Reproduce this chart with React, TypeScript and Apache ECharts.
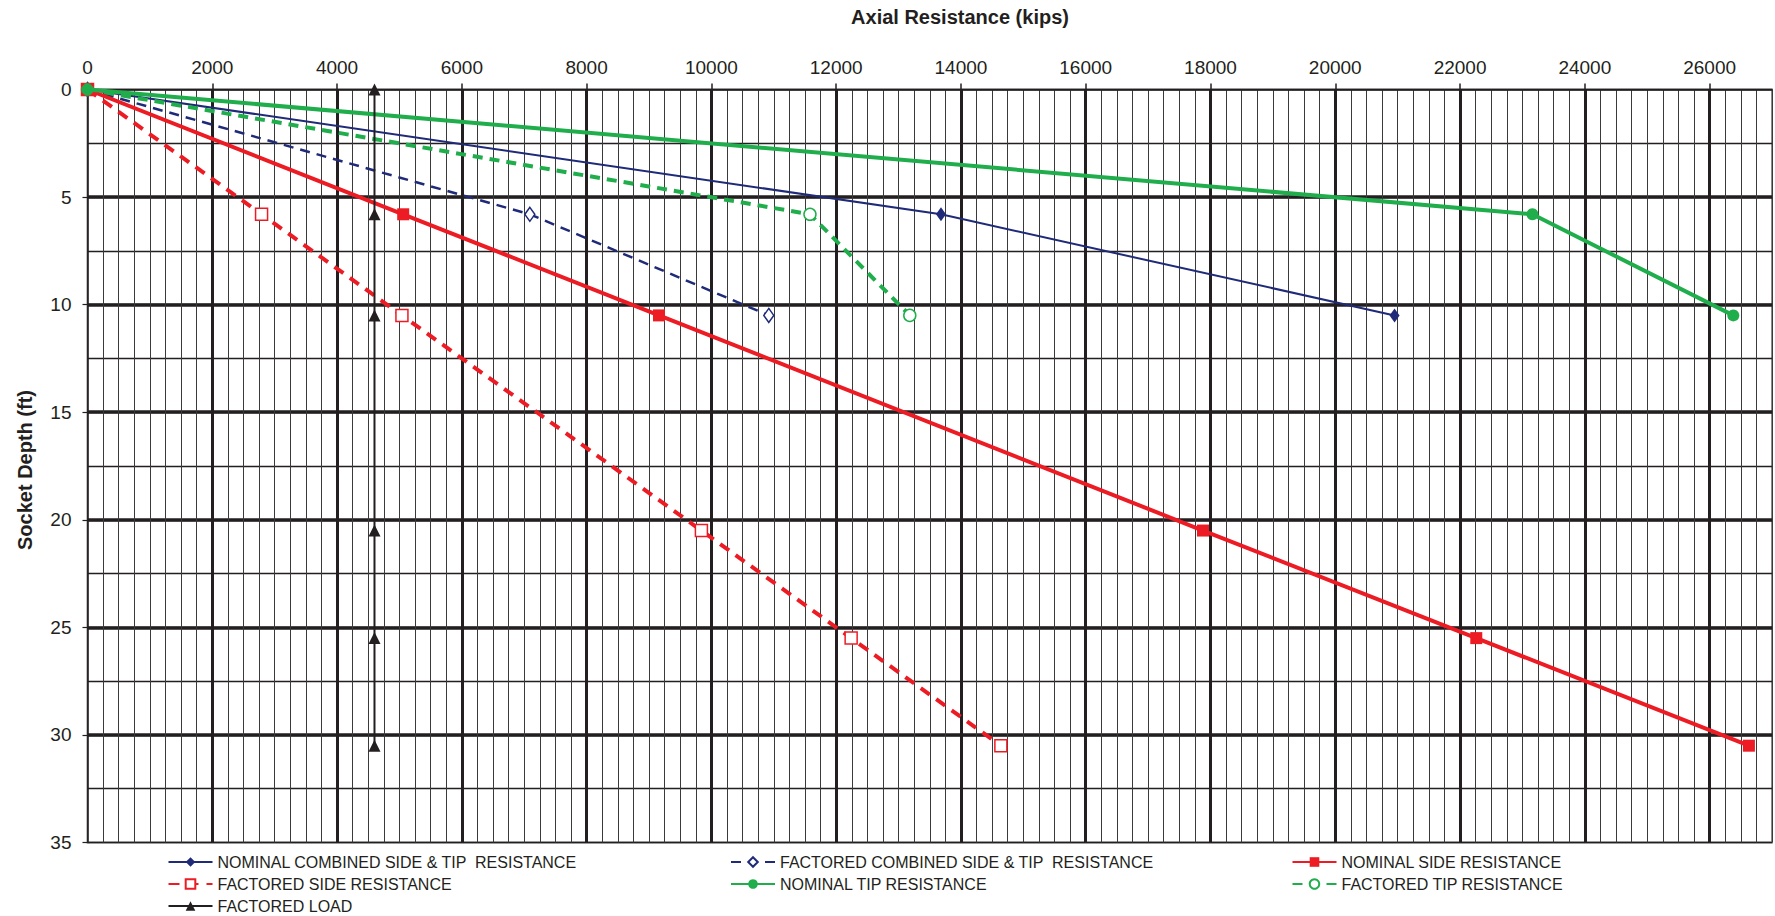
import React, { useEffect, useRef } from "react";
import * as echarts from "echarts";

// ---- data (x: axial resistance in kips, depth in ft) ----
const DEPTHS = [0, 5.8, 10.5, 20.5, 25.5, 30.5];
const COMBINED_DEPTHS = [0, 5.8, 10.5];

const nominalCombined = [0, 13680, 20950];
const factoredCombined = [0, 7090, 10920];
const nominalSide = [0, 5060, 9160, 17880, 22260, 26630];
const factoredSide = [0, 2790, 5040, 9840, 12240, 14640];
const nominalTip = [0, 23160, 26380];
const factoredTip = [0, 11580, 13180];
const factoredLoad = [4600, 4600, 4600, 4600, 4600, 4600];

const X_TICKS = [0, 2000, 4000, 6000, 8000, 10000, 12000, 14000, 16000, 18000, 20000, 22000, 24000, 26000];
const Y_TICKS = [0, 5, 10, 15, 20, 25, 30, 35];

const NAMES = {
  nc: "NOMINAL COMBINED SIDE & TIP  RESISTANCE",
  fc: "FACTORED COMBINED SIDE & TIP  RESISTANCE",
  ns: "NOMINAL SIDE RESISTANCE",
  fs: "FACTORED SIDE RESISTANCE",
  nt: "NOMINAL TIP RESISTANCE",
  ft: "FACTORED TIP RESISTANCE",
  fl: "FACTORED LOAD",
};

const NAVY = "#1f2a78";
const RED = "#ed1c24";
const GREEN = "#1fae4b";
const BLACK = "#231f20";
const FONT = "Arial, 'Liberation Sans', sans-serif";

const pair = (xs: number[], ds: number[]) => xs.map((x, i) => [x, ds[i]]);

export default function App() {
  const ref = useRef<HTMLDivElement>(null);
  useEffect(() => {
    if (!ref.current) return;
    const chart = echarts.init(ref.current, undefined, { renderer: "svg" });
    const xMin = X_TICKS[0];
    const xMax = 27000;
    const yMax = Y_TICKS[Y_TICKS.length - 1];

    const legendCommon = {
      orient: "vertical" as const,
      padding: 0,
      itemWidth: 44,
      itemHeight: 12,
      itemGap: 6,
      top: 854,
      height: 62,
      textStyle: { fontFamily: FONT, fontSize: 16, color: BLACK, lineHeight: 16 },
      selectedMode: false,
    };

    const lineSeries = (
      name: string,
      data: number[][],
      color: string,
      width: number,
      dashed: number[] | null,
      symbol: string,
      size: number | number[],
      open: boolean,
      z: number
    ) => ({
      name,
      type: "line",
      xAxisIndex: 1,
      yAxisIndex: 1,
      z,
      data,
      symbol,
      symbolSize: size,
      showAllSymbol: true,
      lineStyle: { color, width, type: dashed ? dashed : "solid" },
      itemStyle: open
        ? { color: "#ffffff", borderColor: color, borderWidth: 1.5 }
        : { color, borderColor: color, borderWidth: 0 },
      emphasis: { disabled: true },
    });

    chart.setOption({
      animation: false,
      backgroundColor: "#ffffff",
      textStyle: { fontFamily: FONT },
      grid: {
        left: 87.5,
        top: 89.5,
        width: 1684.5,
        height: 753,
        show: true,
        borderColor: "#8a8a8a",
        borderWidth: 2,
        backgroundColor: "transparent",
        containLabel: false,
        outerBoundsMode: "none",
      },
      xAxis: [
        {
          type: "value",
          position: "top",
          min: xMin,
          max: xMax,
          interval: 250,
          axisLine: { show: false },
          axisTick: { show: false },
          axisLabel: { show: false },
          splitLine: { show: true, lineStyle: { color: "#3a3a3a", width: 1 } },
        },
        {
          type: "value",
          position: "top",
          min: xMin,
          max: xMax,
          interval: 2000,
          axisLine: { show: true, onZero: false, lineStyle: { color: BLACK, width: 1.5 } },
          axisTick: { show: true, inside: false, length: 6, lineStyle: { color: BLACK, width: 1.5 } },
          axisLabel: {
            show: true,
            margin: 13,
            fontSize: 19,
            color: BLACK,
            fontFamily: FONT,
            showMaxLabel: false,
            formatter: (v: number) => (X_TICKS.includes(v) ? String(v) : ""),
          },
          splitLine: {
            show: true,
            showMinLine: false,
            showMaxLine: false,
            lineStyle: { color: BLACK, width: 3 },
          },
        },
      ],
      yAxis: [
        {
          type: "value",
          position: "left",
          inverse: true,
          min: 0,
          max: yMax,
          interval: 2.5,
          axisLine: { show: false },
          axisTick: { show: false },
          axisLabel: { show: false },
          splitLine: { show: true, lineStyle: { color: BLACK, width: 1.3 } },
        },
        {
          type: "value",
          position: "left",
          inverse: true,
          min: 0,
          max: yMax,
          interval: 5,
          axisLine: { show: true, onZero: false, lineStyle: { color: BLACK, width: 1.5 } },
          axisTick: { show: true, inside: false, length: 5, lineStyle: { color: BLACK, width: 1.2 } },
          axisLabel: { show: true, margin: 16, fontSize: 19, color: BLACK, fontFamily: FONT },
          splitLine: {
            show: true,
            showMinLine: false,
            showMaxLine: false,
            lineStyle: { color: BLACK, width: 3.5 },
          },
        },
      ],
      legend: [
        { ...legendCommon, left: 167.5, data: [NAMES.nc, NAMES.fs, NAMES.fl] },
        { ...legendCommon, left: 730, data: [NAMES.fc, NAMES.nt] },
        { ...legendCommon, left: 1291.5, data: [NAMES.ns, NAMES.ft] },
      ],
      graphic: [
        {
          type: "text",
          x: 960,
          y: 17,
          style: {
            text: "Axial Resistance (kips)",
            fontFamily: FONT,
            fontSize: 20,
            fontWeight: "bold",
            fill: BLACK,
            align: "center",
            verticalAlign: "middle",
          },
        },
        {
          type: "text",
          x: 25,
          y: 470,
          rotation: Math.PI / 2,
          style: {
            text: "Socket Depth (ft)",
            fontFamily: FONT,
            fontSize: 20,
            fontWeight: "bold",
            fill: BLACK,
            align: "center",
            verticalAlign: "middle",
          },
        },
      ],
      series: [
        lineSeries(NAMES.nc, pair(nominalCombined, COMBINED_DEPTHS), NAVY, 2, null, "diamond", [10, 14], false, 2),
        lineSeries(NAMES.fc, pair(factoredCombined, COMBINED_DEPTHS), NAVY, 2.5, [10, 7], "diamond", [10, 14], true, 2),
        lineSeries(NAMES.fs, pair(factoredSide, DEPTHS), RED, 4, [11, 8], "rect", 12, true, 2),
        lineSeries(NAMES.ft, pair(factoredTip, COMBINED_DEPTHS), GREEN, 4, [10, 7], "circle", 12, true, 2),
        lineSeries(NAMES.ns, pair(nominalSide, DEPTHS), RED, 4, null, "rect", 12, false, 3),
        lineSeries(NAMES.nt, pair(nominalTip, COMBINED_DEPTHS), GREEN, 4, null, "circle", 12, false, 4),
        lineSeries(NAMES.fl, pair(factoredLoad, DEPTHS), BLACK, 2, null, "triangle", 12, false, 5),
      ],
    });
    return () => chart.dispose();
  }, []);

  return (
    <div
      ref={ref}
      style={{ position: "absolute", left: 0, top: 0, width: 1775, height: 916, background: "#fff" }}
    />
  );
}
